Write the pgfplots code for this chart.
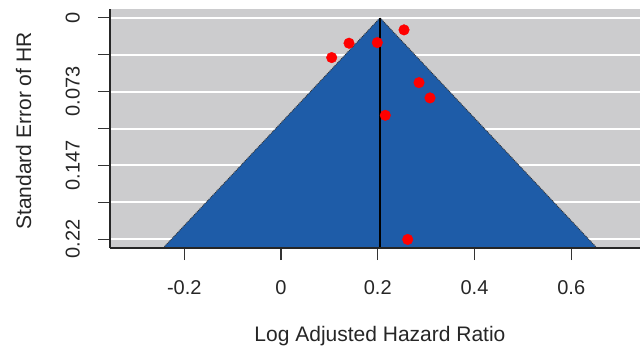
\documentclass[border=0pt]{standalone}
\usepackage{pgfplots}
\pgfplotsset{compat=1.18}
\usepackage{fontspec}
\setmainfont{Liberation Sans}
\definecolor{bggray}{RGB}{204,204,206}
\definecolor{funnelblue}{RGB}{30,92,168}
\begin{document}
\begin{tikzpicture}
\useasboundingbox (-110bp,-102bp) rectangle (530bp,248bp);
\begin{axis}[
  at={(0,0)}, anchor=south west,
  scale only axis, width=530bp, height=239bp,
  xmin=-0.3535, xmax=0.7421,
  ymin=-0.0088, ymax=0.2288, y dir=reverse,
  clip=false,
  axis background/.style={fill=bggray},
  axis x line=bottom, axis y line=left,
  axis line style={-, line width=1.2bp, black!85},
  x axis line style={draw=none},
  tick align=outside, major tick length=12bp,
  tick style={line width=1.2bp, black!80},
  xtick={-0.2,0,0.2,0.4,0.6},
  xticklabels={-0.2,0,0.2,0.4,0.6},
  ytick={0,0.036667,0.073333,0.11,0.146667,0.183333,0.22},
  yticklabels={0,,0.073,,0.147,,0.22},
  ymajorgrids, major grid style={white, line width=2bp},
  /pgf/number format/assume math mode=true,
  xticklabel style={font=\fontsize{20bp}{24bp}\selectfont, anchor=north, inner sep=0pt, text=black!85},
  yticklabel style={font=\fontsize{20bp}{24bp}\selectfont, rotate=90, anchor=south, inner sep=0pt, text=black!85},
  xticklabel shift=20bp,
  yticklabel shift=18bp,
  every axis x label/.style={at={(axis description cs:0.5094,-0.393)}, anchor=base, font=\fontsize{21bp}{25bp}\selectfont, text=black!85},
  every axis y label/.style={at={(axis description cs:-0.149,0.4895)}, rotate=90, anchor=base, font=\fontsize{21bp}{25bp}\selectfont, text=black!85},
  xlabel={Log Adjusted Hazard Ratio},
  ylabel={Standard Error of HR},
]
\addplot[fill=funnelblue, draw=none] coordinates {(-0.2437,0.2288) (0.2047,0) (0.6531,0.2288)} -- cycle;
\addplot[densely dotted, line width=0.9bp, black!80, no marks] coordinates {(-0.2437,0.2288) (0.2047,0) (0.6531,0.2288)};
\addplot[black, line width=1.3bp, no marks] coordinates {(0.2047,0) (0.2047,0.2288)};
\addplot[black!85, line width=1.2bp, no marks] coordinates {(-0.3535,0.2288) (0.7421,0.2288)};
\addplot[only marks, mark=*, mark size=5.3bp, red, mark options={draw=red, fill=red}] coordinates {
(0.2543,0.01195) (0.1406,0.0252) (0.1048,0.0395) (0.1991,0.0246)
(0.2853,0.0644) (0.3080,0.0796) (0.2156,0.0969) (0.2619,0.2203)};
\end{axis}
\end{tikzpicture}
\end{document}
